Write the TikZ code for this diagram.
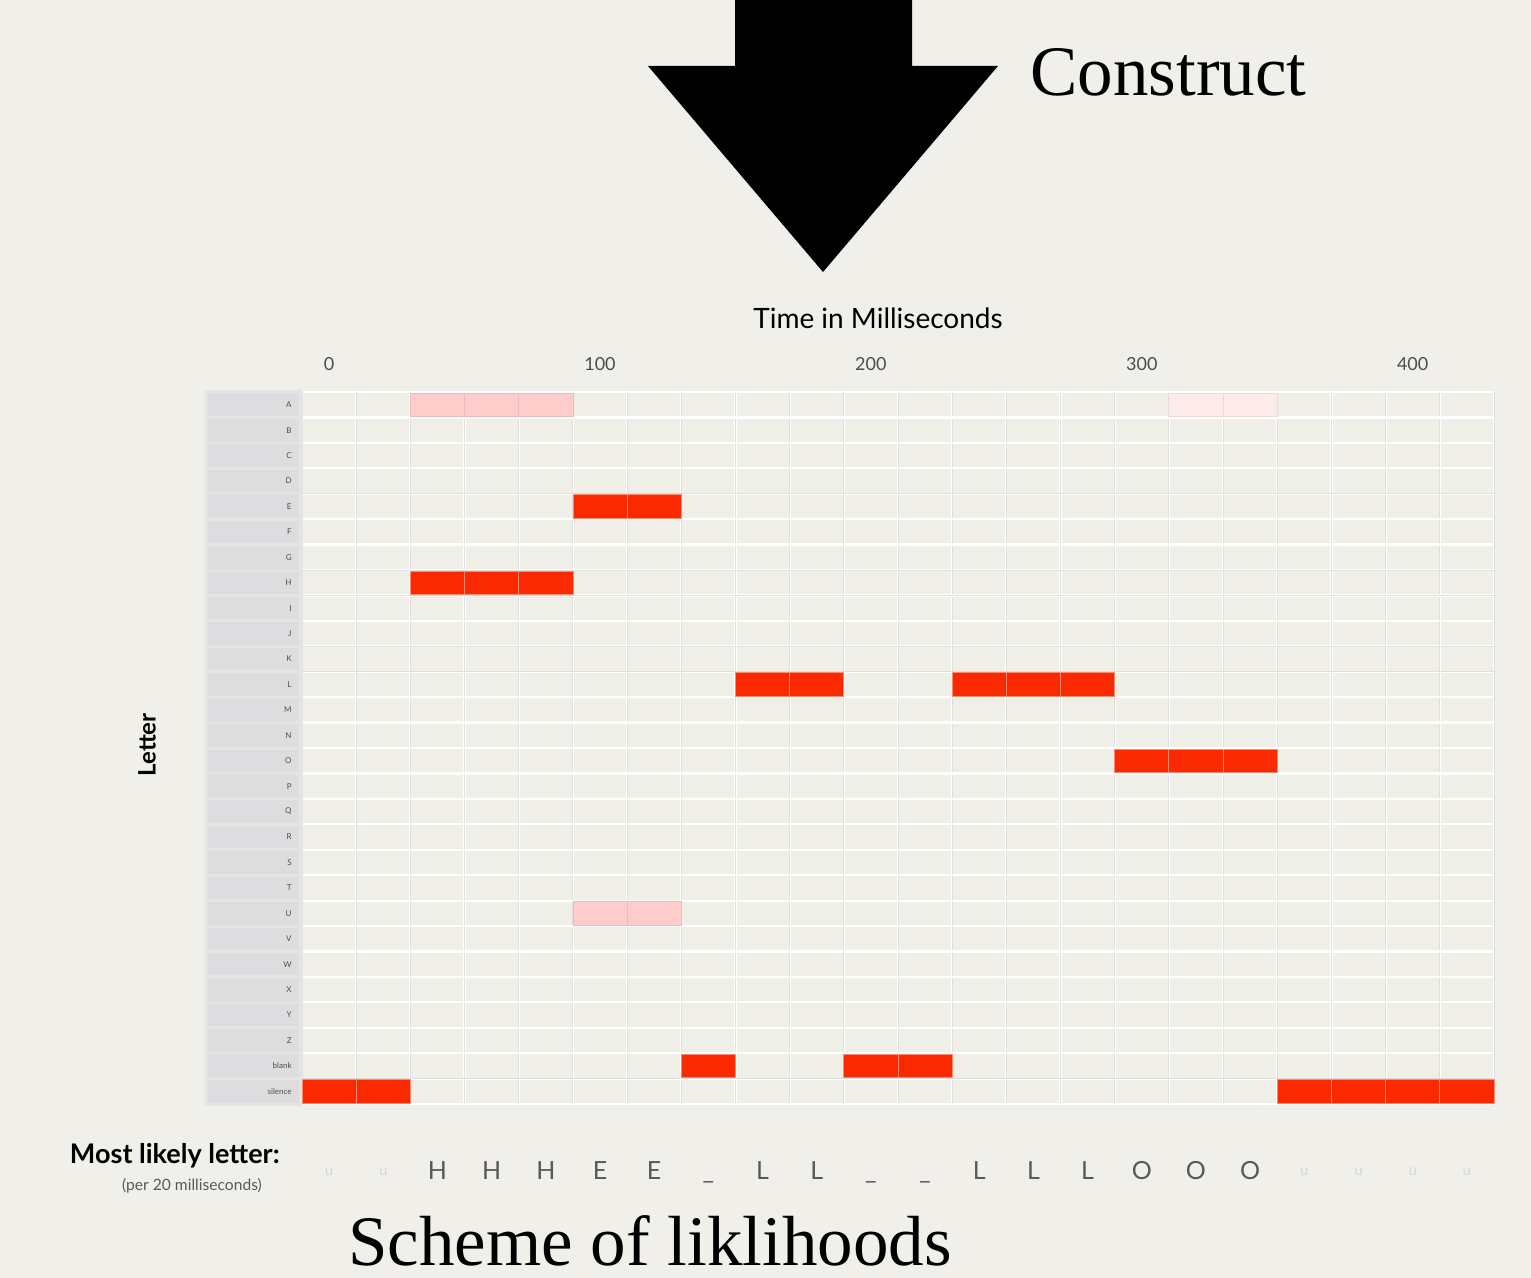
\documentclass[tikz,border=0pt]{standalone}
\usepackage{fontspec}
\setmainfont{Liberation Serif}
\newfontfamily\chartfont{Lato}
\usetikzlibrary{positioning}

\definecolor{paper}{RGB}{241,239,233}
\definecolor{cellbg}{RGB}{239,238,231}
\definecolor{labbg}{RGB}{221,221,223}
\definecolor{hitred}{RGB}{249,42,0}
\definecolor{hitpink}{RGB}{255,204,204}
\definecolor{hitpale}{RGB}{253,235,234}
\definecolor{gridgray}{RGB}{222,221,226}

% cell width and row height, in pixels
\def\cw{54.18}
\def\rh{25.43}
\def\blankmark{u}

\begin{document}
\begin{tikzpicture}[
        x=0.5pt, y=-0.5pt,
        every node/.style={inner sep=0pt, font=\chartfont},
        gridline/.style={draw=white, line width=1.1pt},
        gridrule/.style={draw=gridgray, line width=0.45pt},
        labcell/.style={fill=labbg},
        hit/.style={fill=hitred, draw=hitred!55!white, line width=0.4pt},
        weak/.style={fill=hitpink, draw=hitpink!80!gray, line width=0.4pt},
        faint/.style={fill=hitpale, draw=hitpale!85!gray, line width=0.4pt},
        rowlab/.style={anchor=east, text=gray!60!black, font=\chartfont\fontsize{4}{4}\selectfont},
        tick/.style={text=gray!60!black, font=\chartfont\fontsize{9}{9}\selectfont},
        guess/.style={anchor=base, text=gray!70!black, font=\chartfont\fontsize{12.5}{13}\selectfont},
        blankguess/.style={anchor=base, text=gray!32, font=\chartfont\fontsize{7.5}{7.5}\selectfont},
        caption/.style={font=\fontsize{35.5}{38}\selectfont, anchor=base west}
    ]

    % Background
    \fill[paper] (0,0) rectangle (1531,1278);
    \useasboundingbox (0,0) rectangle (1531,1278);

    % Arrow
    \fill[black] (735,0) -- (912,0) -- (912,66) -- (998,66) -- (823,272)
        -- (648,66) -- (735,66) -- cycle;
    \node[caption] (construct) at (1030,96) {Construct};

    % Axes
    \node (timeaxis) at (878,318) {\fontsize{14}{14}\selectfont Time in Milliseconds};
    \foreach \t [count=\k from 0] in {0,100,200,300,400}
        \node[tick] (tick-\k) at ({302+(5*\k+0.5)*\cw},364) {\t};
    \node[rotate=90] (letteraxis) at (147,745) {\bfseries\fontsize{12}{12}\selectfont Letter};

    % Grid
    \fill[cellbg] (302,392) rectangle (1494,1104);
    \foreach \c in {0,...,22} {
        \draw[gridline] ({302+\c*\cw},392) -- ({302+\c*\cw},1104);
        \draw[gridrule] ({302+\c*\cw},392) -- ({302+\c*\cw},1104);
    }
    \foreach \r in {0,...,28}
        \draw[gridline] (302,{392+\r*\rh}) -- (1494,{392+\r*\rh});
    \foreach \r in {4,7,8,10,11,27}
        \draw[gridrule] (302,{392+\r*\rh}) -- (1494,{392+\r*\rh});

    % Row labels
    \fill[labbg!80!white] (205,390) rectangle (303,1106);
    \foreach \l [count=\i from 0] in {A,B,C,D,E,F,G,H,I,J,K,L,M,N,O,P,Q,R,S,T,U,V,W,X,Y,Z,blank,silence} {
        \fill[labcell] (208,{392+\i*\rh+1.5}) rectangle (299,{392+(\i+1)*\rh-1.5});
        \node[rowlab] (lab-\i) at (292,{392+(\i+0.5)*\rh}) {\l};
    }

    % Likelihoods
    \foreach \r/\c in {7/2,7/3,7/4, 4/5,4/6, 26/7, 11/8,11/9, 26/10,26/11,
                       11/12,11/13,11/14, 14/15,14/16,14/17,
                       27/0,27/1,27/18,27/19,27/20,27/21}
        \filldraw[hit] ({302+\c*\cw},{392+\r*\rh+1}) rectangle ({302+(\c+1)*\cw},{392+(\r+1)*\rh-1});
    \foreach \r/\c in {0/2,0/3,0/4, 20/5,20/6}
        \filldraw[weak] ({302+\c*\cw},{392+\r*\rh+1}) rectangle ({302+(\c+1)*\cw},{392+(\r+1)*\rh-1});
    \foreach \r/\c in {0/16,0/17}
        \filldraw[faint] ({302+\c*\cw},{392+\r*\rh+1}) rectangle ({302+(\c+1)*\cw},{392+(\r+1)*\rh-1});

    % Most likely letters
    \node[anchor=east] (mlhead) at (280,1156) {\bfseries\fontsize{13.5}{13.5}\selectfont Most likely letter:};
    \node[text=gray!70!black] (mlsub) at (192,1186) {\fontsize{7.8}{7.8}\selectfont (per 20 milliseconds)};
    \foreach \g [count=\k from 0] in {u,u,H,H,H,E,E,\_,L,L,\_,\_,L,L,L,O,O,O,u,u,u,u} {
        \ifx\g\blankmark
            \node[blankguess] (guess-\k) at ({302+(\k+0.5)*\cw},1175) {u};
        \else
            \node[guess] (guess-\k) at ({302+(\k+0.5)*\cw},1179) {\g};
        \fi
    }

    \node[caption] (scheme) at (348,1265) {Scheme of liklihoods};

\end{tikzpicture}
\end{document}
